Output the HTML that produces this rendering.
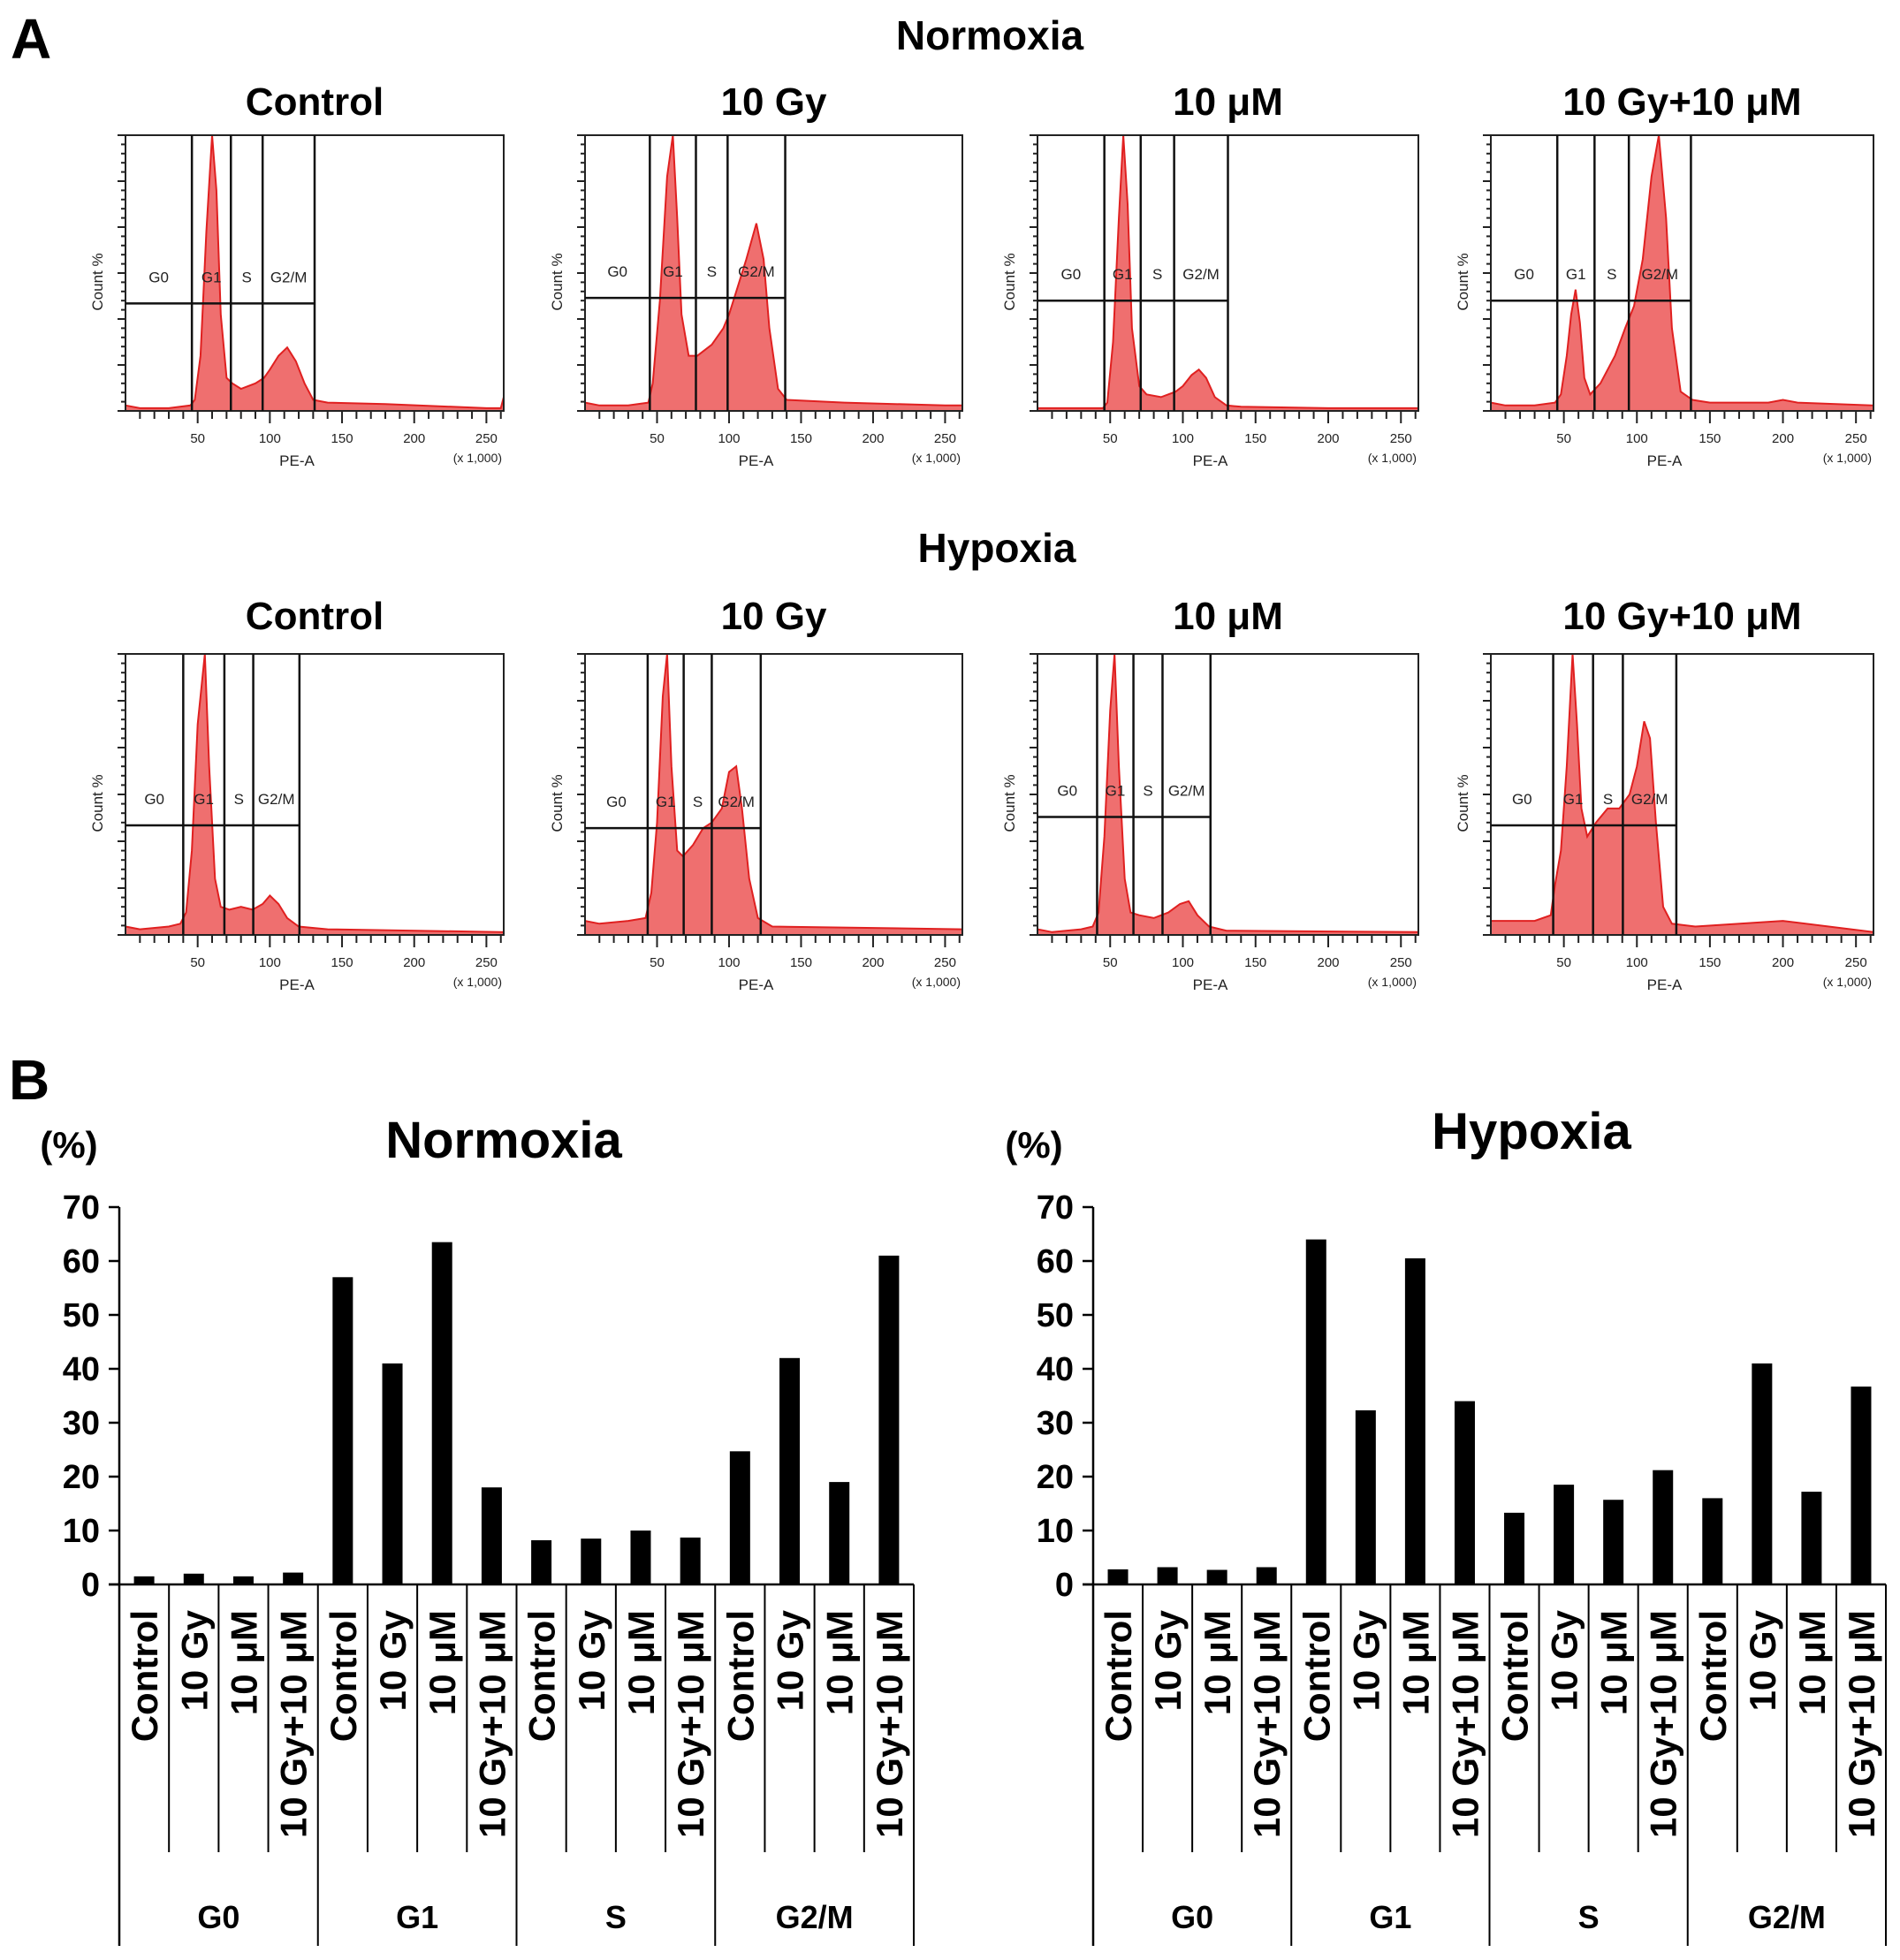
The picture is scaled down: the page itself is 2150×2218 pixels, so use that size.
<!DOCTYPE html>
<html><head><meta charset="utf-8">
<style>
html,body{margin:0;padding:0;background:#fff;}
svg{display:block;font-family:"Liberation Sans",sans-serif;}
</style></head>
<body>
<svg id="fig" width="2150" height="2218" viewBox="0 0 2150 2218" xmlns="http://www.w3.org/2000/svg">
<text x="12" y="66" font-size="64" font-weight="bold">A</text>
<text x="1120" y="56" font-size="46" font-weight="bold" text-anchor="middle">Normoxia</text>
<text x="1128" y="636" font-size="46" font-weight="bold" text-anchor="middle">Hypoxia</text>
<text x="10" y="1244" font-size="64" font-weight="bold">B</text>
<g id="hists"></g>
<g id="bars"></g>
</svg>
<script>
// ---- Histogram data (PE-A in thousands, height as fraction of plot) ----
const histTitles = ["Control","10 Gy","10 \u03bcM","10 Gy+10 \u03bcM"];
const histGatesN = [[46,73,95,131],[45,77,99,139],[46,71,94,131],[45.5,71,94.5,137]];
const histGatesH = [[40,68.5,88.5,120.5],[43.5,68.5,88,122],[41,66,86,119],[42.7,70,90.4,127]];
const histGateYN = [0.61,0.59,0.60,0.60];
const histGateYH = [0.61,0.62,0.58,0.61];
const histXN = [
 [0,10,30,45,48,52,56,60,63,66,70,74,80,90,96,100,106,112,118,124,130,140,180,250,260,262],
 [0,10,30,44,47,52,57,61,64,67,72,78,88,96,100,106,112,119,124,128,134,140,180,250,262],
 [0,10,30,45,48,52,56,59,62,65,70,75,85,95,100,106,111,116,122,130,140,200,262],
 [0,10,30,44,48,52,55,58,61,64,68,75,85,92,98,104,110,115,120,124,130,138,150,190,200,210,262]
];
const histYN = [
 [0.02,0.01,0.01,0.02,0.04,0.2,0.65,1.0,0.8,0.35,0.12,0.1,0.08,0.1,0.12,0.15,0.2,0.23,0.18,0.1,0.04,0.03,0.025,0.01,0.01,0.05],
 [0.03,0.02,0.02,0.03,0.1,0.4,0.85,1.0,0.7,0.35,0.2,0.2,0.24,0.3,0.35,0.45,0.55,0.68,0.55,0.3,0.08,0.04,0.03,0.02,0.02],
 [0.01,0.01,0.01,0.01,0.03,0.25,0.7,1.0,0.75,0.3,0.09,0.06,0.05,0.07,0.09,0.13,0.15,0.12,0.05,0.02,0.015,0.01,0.01],
 [0.03,0.02,0.02,0.03,0.06,0.2,0.35,0.44,0.32,0.12,0.06,0.1,0.2,0.3,0.38,0.55,0.85,1.0,0.7,0.3,0.07,0.04,0.03,0.03,0.04,0.03,0.02]
];
const histXH = [
 [0,10,30,38,42,46,50,55,58,62,66,72,80,88,95,100,106,112,120,140,262],
 [0,10,30,42,46,50,54,57,60,64,68,75,82,88,95,100,105,109,114,120,130,262],
 [0,10,30,38,42,46,50,53,56,60,64,70,80,90,98,104,110,118,130,262],
 [0,10,30,41,44,48,52,56,59,62,66,72,80,88,95,100,105,109,113,118,124,140,200,262]
];
const histYH = [
 [0.03,0.02,0.03,0.04,0.08,0.3,0.75,1.0,0.6,0.2,0.1,0.09,0.1,0.09,0.11,0.14,0.11,0.06,0.03,0.02,0.01],
 [0.05,0.04,0.05,0.06,0.15,0.4,0.85,1.0,0.6,0.3,0.28,0.32,0.38,0.4,0.45,0.58,0.6,0.45,0.2,0.06,0.03,0.02],
 [0.02,0.01,0.02,0.03,0.08,0.35,0.8,1.0,0.6,0.2,0.08,0.07,0.06,0.08,0.11,0.12,0.07,0.03,0.015,0.01],
 [0.05,0.05,0.05,0.07,0.18,0.3,0.6,1.0,0.75,0.45,0.35,0.4,0.45,0.45,0.5,0.6,0.76,0.7,0.4,0.1,0.04,0.03,0.05,0.01]
];
const histTicks = [50,100,150,200,250];
const gateLabels = ["G0","G1","S","G2/M"];

// ---- Bar chart data ----
const barCats = ["Control","10 Gy","10 \u03bcM","10 Gy+10 \u03bcM"];
const barGroups = ["G0","G1","S","G2/M"];
const normoxiaVals = [1.5,2,1.5,2.2, 57,41,63.5,18, 8.2,8.5,10,8.7, 24.7,42,19,61];
const hypoxiaVals = [2.8,3.2,2.7,3.2, 64,32.3,60.5,34, 13.3,18.5,15.7,21.2, 16,41,17.2,36.7];
const yTicks = [0,10,20,30,40,50,60,70];

const NS="http://www.w3.org/2000/svg";
function mk(tag, attrs, parent){const e=document.createElementNS(NS,tag);for(const k in attrs)e.setAttribute(k,attrs[k]);parent.appendChild(e);return e;}

const hg=document.getElementById('hists');
const colX=[[142,570],[662,1089],[1174,1605],[1687,2120]];
const rows=[{y0:153,y1:465,titleY:130,gates:histGatesN,gy:histGateYN,xs:histXN,ys:histYN,name:'normoxia'},
            {y0:740,y1:1058,titleY:712,gates:histGatesH,gy:histGateYH,xs:histXH,ys:histYH,name:'hypoxia'}];
rows.forEach((r)=>{
 for(let p=0;p<4;p++){
  const [L,R]=colX[p];
  const sx=v=>L+(R-L)*v/262;
  const sy=f=>r.y1-(r.y1-r.y0)*f;
  const g=mk('g',{},hg);
  
  
  const t=mk('text',{x:(L+R)/2,y:r.titleY,'font-size':44,'font-weight':'bold','text-anchor':'middle'},g);
  t.textContent=histTitles[p];
  
  
  let d='M'+sx(0)+','+sy(0);
  const xs=r.xs[p], ys=r.ys[p];
  for(let i=0;i<xs.length;i++) d+=' L'+sx(xs[i]).toFixed(1)+','+sy(ys[i]).toFixed(1);
  d+=' L'+sx(262)+','+sy(0)+' Z';
  const path=mk('path',{d:d,fill:'#ef6f6f',stroke:'#e02020','stroke-width':2},g);
  
  
  mk('rect',{x:L,y:r.y0,width:R-L,height:r.y1-r.y0,fill:'none',stroke:'#222','stroke-width':2},g);
  const gates=r.gates[p];
  const gy=r.y0+(r.y1-r.y0)*r.gy[p];
  const bounds=[0].concat(gates);
  for(let i=0;i<4;i++){
   mk('line',{x1:sx(gates[i]),x2:sx(gates[i]),y1:r.y0,y2:r.y1,stroke:'#111','stroke-width':2.5},g);
   mk('line',{x1:sx(bounds[i]),x2:sx(bounds[i+1]),y1:gy,y2:gy,stroke:'#111','stroke-width':2.5},g);
   const gl=mk('text',{x:(sx(bounds[i])+sx(bounds[i+1]))/2,y:gy-24,'font-size':17,'text-anchor':'middle',fill:'#222'},g);
   gl.textContent=gateLabels[i];
   
   
  }
  for(let v=10;v<=260;v+=10){
   const major=v%50===0;
   mk('line',{x1:sx(v),x2:sx(v),y1:r.y1,y2:r.y1+(major?14:9),stroke:'#222','stroke-width':2},g);
  }
  histTicks.forEach(v=>{
   const tl=mk('text',{x:sx(v),y:r.y1+36,'font-size':15,'text-anchor':'middle',fill:'#222'},g);
   tl.textContent=v;
   
   
  });
  const xl=mk('text',{x:(L+R)/2-20,y:r.y1+62,'font-size':17,'text-anchor':'middle',fill:'#222'},g);
  xl.textContent='PE-A';
  
  
  const xu=mk('text',{x:R-2,y:r.y1+58,'font-size':14,'text-anchor':'end',fill:'#222'},g);
  xu.textContent='(x 1,000)';
  
  
  for(let k=0;k<=30;k++){
   const yy=r.y1-(r.y1-r.y0)*k/30;
   mk('line',{x1:L-(k%5===0?9:5),x2:L,y1:yy,y2:yy,stroke:'#222','stroke-width':2},g);
  }
  const yl=mk('text',{x:0,y:0,'font-size':17,'text-anchor':'middle',fill:'#222',transform:'translate('+(L-26)+','+((r.y0+r.y1)/2+10)+') rotate(-90)'},g);
  yl.textContent='Count %';
  
  
 }
});

// ---- Bar charts ----
const bg=document.getElementById('bars');
const charts=[{x0:135,x1:1034,vals:normoxiaVals,title:'Normoxia',tx:570,ty:1310,px:78,name:'normoxia'},
              {x0:1237,x1:2134,vals:hypoxiaVals,title:'Hypoxia',tx:1733,ty:1300,px:1170,name:'hypoxia'}];
const Y0=1793, Y70=1366;
const ys=v=>Y0-(Y0-Y70)*v/70;
charts.forEach(c=>{
 const g=mk('g',{},bg);
 
 
 const tt=mk('text',{x:c.tx,y:c.ty,'font-size':58,'font-weight':'bold','text-anchor':'middle'},g);
 tt.textContent=c.title;
 
 
 const pu=mk('text',{x:c.px,y:1310,'font-size':42,'font-weight':'bold','text-anchor':'middle'},g);
 pu.textContent='(%)';
 
 
 mk('line',{x1:c.x0,x2:c.x0,y1:Y70,y2:2202,stroke:'#000','stroke-width':2.5},g);
 yTicks.forEach(v=>{
  mk('line',{x1:c.x0-12,x2:c.x0,y1:ys(v),y2:ys(v),stroke:'#000','stroke-width':2.5},g);
  const tl=mk('text',{x:c.x0-22,y:ys(v)+13,'font-size':38,'font-weight':'bold','text-anchor':'end'},g);
  tl.textContent=v;
  
  
 });
 mk('line',{x1:c.x0-12,x2:c.x1,y1:Y0,y2:Y0,stroke:'#000','stroke-width':2.5},g);
 const n=c.vals.length, slot=(c.x1-c.x0)/n;
 for(let i=0;i<n;i++){
  const cx=c.x0+slot*(i+0.5);
  const b=mk('rect',{x:cx-11.5,y:ys(c.vals[i]),width:23,height:Y0-ys(c.vals[i]),fill:'#000'},g);
  
  
  const lab=mk('text',{x:0,y:0,'font-size':42,'font-weight':'bold','text-anchor':'end',transform:'translate('+(cx+15)+',1822) rotate(-90)'},g);
  lab.textContent=barCats[i%4];
  
  
  const xb=c.x0+slot*(i+1);
  const bottom=((i+1)%4===0)?2202:2096;
  mk('line',{x1:xb,x2:xb,y1:Y0,y2:bottom,stroke:'#000','stroke-width':2},g);
 }
 for(let k=0;k<4;k++){
  const gl=mk('text',{x:c.x0+slot*(4*k+2),y:2182,'font-size':36,'font-weight':'bold','text-anchor':'middle'},g);
  gl.textContent=barGroups[k];
  
  
 }
});
</script>
</body></html>
